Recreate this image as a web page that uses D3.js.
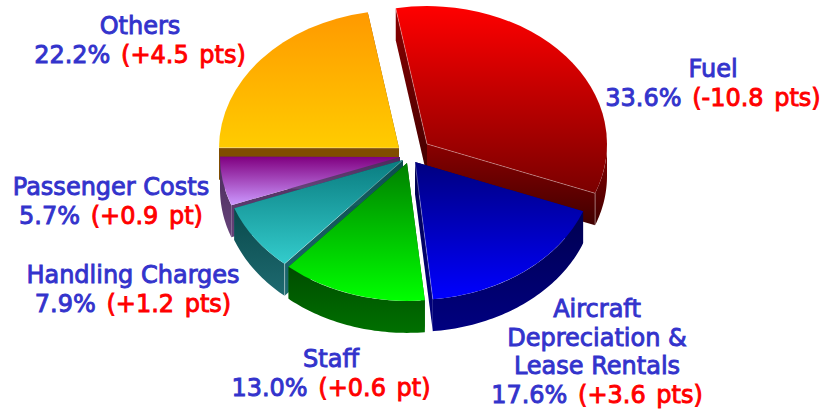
<!DOCTYPE html>
<html>
<head>
<meta charset="utf-8">
<script src="https://d3js.org/d3.v7.min.js"></script>
<style>
html, body { margin: 0; padding: 0; background: #fff; }
svg { display: block; }
text { font-family: "DejaVu Sans", sans-serif; font-size: 24px; text-anchor: middle; stroke-width: 0.9px; }
.value { word-spacing: 3px; }
.blue { fill: #3333cc; stroke: #3333cc; }
.red { fill: #ff0000; stroke: #ff0000; }
</style>
</head>
<body>
<svg id="chart" width="826" height="412"></svg>
<script>
// clockwise from the top of the pie
var categories = ["Fuel", "Aircraft Depreciation & Lease Rentals", "Staff", "Handling Charges", "Passenger Costs", "Others"];
var shares = [33.6, 17.6, 13.0, 7.9, 5.7, 22.2];
var changes = ["-10.8 pts", "+3.6 pts", "+0.6 pt", "+1.2 pts", "+0.9 pt", "+4.5 pts"];

// top gradient, wall gradient
var topColors = [["#ff0000", "#7a0000"], ["#000080", "#0000ff"], ["#008000", "#00ff00"],
                 ["#0a7c80", "#33cccc"], ["#800080", "#cc99ff"], ["#ff9900", "#ffcc00"]];
var wallColors = [["#8a0000", "#400000"], ["#000050", "#000080"], ["#004d00", "#007000"],
                  ["#0a4a4c", "#1e6a70"], ["#4a2a5a", "#66447a"], ["#804d00", "#804d00"]];

// how far each slice was pulled out of the pie
var sliceShift = [[22, -11], [10, 7], [2, 8], [-2, 5], [-5, 2], [-6, -7]];
var drawOrder = [5, 0, 4, 3, 1, 2];

// which cut edges catch the light (0 start, 1 end) and which corner gets the vertical one
var litEdges = [[0, 1], [1], [], [0], [], [0]];
var litCorner = [1, null, null, 0, null, null];

// label layout, x and first baseline
var labelPos = [[713, 77], [597, 317], [331, 367], [133, 283], [111, 195], [140, 34]];
var labelLines = [["Fuel"], ["Aircraft", "Depreciation &", "Lease Rentals"], ["Staff"],
                  ["Handling Charges"], ["Passenger Costs"], ["Others"]];

var cx = 405, cy = 155, rx = 180, squash = 0.766, depth = 32;
var ry = rx * squash;

var pie = d3.pie().sort(null)
    .startAngle(-10 * Math.PI / 180)
    .endAngle(350 * Math.PI / 180);
var arcs = pie(shares);
var arc = d3.arc().innerRadius(0).outerRadius(rx);

var svg = d3.select("#chart");
var defs = svg.append("defs");

function gradient(id, colors) {
    var g = defs.append("linearGradient").attr("id", id)
        .attr("x1", 0).attr("y1", 0).attr("x2", 0).attr("y2", 1);
    g.append("stop").attr("offset", "0%").attr("stop-color", colors[0]);
    g.append("stop").attr("offset", "100%").attr("stop-color", colors[1]);
}
topColors.forEach(function(c, i) { gradient("top" + i, c); });
wallColors.forEach(function(c, i) { gradient("wall" + i, c); });

// point on the rim, in the local space of a slice
function rim(a) {
    return [rx * Math.sin(a), -ry * Math.cos(a)];
}
var line = d3.line();

drawOrder.forEach(function(i) {
    var d = arcs[i];
    var g = svg.append("g")
        .attr("transform", "translate(" + (cx + sliceShift[i][0]) + "," + (cy + sliceShift[i][1]) + ")");
    var corners = [rim(d.startAngle), rim(d.endAngle)];

    // the two cut faces
    corners.forEach(function(p) {
        g.append("path")
            .attr("d", line([[0, 0], p, [p[0], p[1] + depth], [0, depth]]) + "Z")
            .attr("fill", "url(#wall" + i + ")");
    });

    // outer wall, front half only
    var from = Math.max(d.startAngle, Math.PI / 2), to = Math.min(d.endAngle, 3 * Math.PI / 2);
    if (from < to) {
        var angles = d3.range(from, to, 0.02).concat([to]);
        var upper = angles.map(rim);
        var lower = upper.map(function(p) { return [p[0], p[1] + depth]; }).reverse();
        g.append("path")
            .attr("d", line(upper.concat(lower)) + "Z")
            .attr("fill", "url(#wall" + i + ")");
    }

    // top surface
    g.append("path")
        .attr("transform", "scale(1," + squash + ")")
        .attr("d", arc(d))
        .attr("fill", "url(#top" + i + ")");

    // thin light edges on the cuts
    litEdges[i].forEach(function(k) {
        g.append("path")
            .attr("d", line([[0, 0], corners[k]]))
            .attr("fill", "none")
            .attr("stroke", "#fff")
            .attr("stroke-opacity", 0.4)
            .attr("stroke-width", 0.8);
    });
    if (litCorner[i] !== null) {
        var c = corners[litCorner[i]];
        g.append("path")
            .attr("d", line([c, [c[0], c[1] + depth]]))
            .attr("fill", "none")
            .attr("stroke", "#fff")
            .attr("stroke-opacity", 0.5)
            .attr("stroke-width", 0.8);
    }
});

// labels
categories.forEach(function(name, i) {
    var x = labelPos[i][0], y = labelPos[i][1];
    labelLines[i].forEach(function(t, k) {
        svg.append("text").attr("class", "blue").attr("x", x).attr("y", y + k * 28.7).text(t);
    });
    var t = svg.append("text").attr("class", "value").attr("x", x).attr("y", y + labelLines[i].length * 28.7);
    t.append("tspan").attr("class", "blue").text(d3.format(".1f")(shares[i]) + "% ");
    t.append("tspan").attr("class", "red").text("(" + changes[i] + ")");
});
</script>
</body>
</html>
